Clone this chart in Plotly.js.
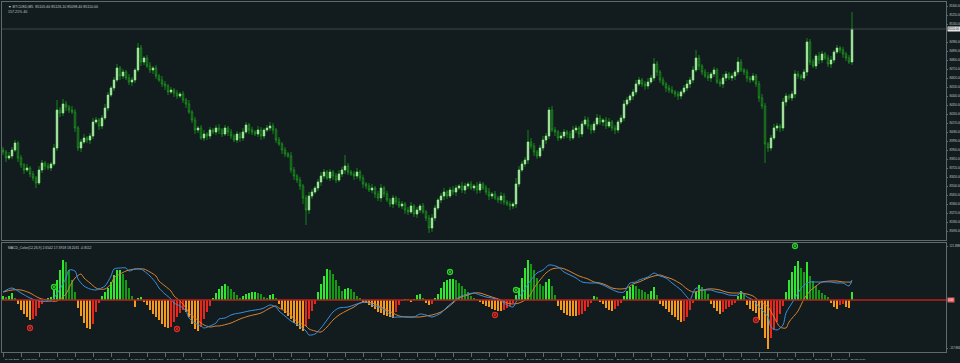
<!DOCTYPE html>
<html><head><meta charset="utf-8">
<script src="https://cdn.plot.ly/plotly-3.0.1.min.js"></script>
<style>html,body{margin:0;padding:0;background:#121c1e;}#chart{width:960px;height:363px;}</style>
</head><body><div id="chart"></div>
<script>
// ---- price bars (close), one per bar ----
const firstOpen = 83900;
const closes = [
83880,83820,83840,83900,83970,83820,83750,83700,83720,83660,
83620,83570,83700,83770,83740,83720,83760,83920,84300,84270,
84360,84330,84300,84280,84120,83920,83980,84020,84000,84040,
84180,84200,84140,84220,84320,84450,84520,84600,84720,84640,
84680,84620,84580,84600,84700,84920,84780,84820,84740,84700,
84720,84640,84600,84560,84540,84480,84500,84470,84440,84460,
84400,84360,84280,84200,84100,84120,84020,84060,84040,84100,
84080,84120,84100,84060,84120,84080,84040,84000,84060,84020,
84080,84150,84100,84080,84060,84100,84040,84100,84120,84140,
84100,84000,83960,83900,83860,83840,83700,83640,83600,83540,
83420,83300,83440,83480,83520,83580,83640,83680,83620,83680,
83640,83600,83660,83700,83740,83680,83660,83640,83680,83620,
83560,83540,83500,83520,83460,83420,83520,83460,83400,83360,
83420,83380,83340,83360,83300,83280,83340,83260,83300,83340,
83280,83220,83120,83220,83320,83400,83440,83480,83440,83500,
83480,83520,83540,83500,83540,83560,83520,83540,83500,83560,
83520,83480,83440,83460,83420,83400,83440,83380,83360,83340,
83360,83560,83700,83760,83800,83980,83940,83880,83840,83920,
84000,84040,84300,84100,84080,84020,84040,84080,84060,84020,
84100,84120,84060,84160,84200,84140,84100,84160,84220,84180,
84200,84140,84180,84120,84100,84180,84220,84360,84400,84440,
84480,84560,84600,84560,84540,84580,84620,84760,84680,84600,
84560,84520,84500,84480,84460,84440,84480,84520,84560,84600,
84700,84820,84740,84680,84640,84620,84660,84700,84580,84560,
84620,84660,84620,84640,84680,84780,84700,84680,84620,84600,
84640,84560,84420,84340,83960,83920,84020,84120,84140,84120,
84380,84440,84420,84460,84660,84640,84620,84680,84980,84780,
84740,84840,84800,84860,84820,84760,84800,84880,84920,84900,
84860,84820,84780,85110];
const wickUp = [
30,20,40,30,30,20,30,20,40,20, 30,20,40,30,20,30,20,40,100,30,
50,30,20,40,30,20,30,40,20,30, 40,30,20,30,40,30,20,30,40,20,
30,20,40,30,20,50,30,20,30,40, 20,30,20,40,30,20,30,20,30,20,
30,20,40,20,30,20,30,40,20,30, 20,30,40,20,30,20,30,20,30,20,
40,30,20,30,20,40,30,20,30,40, 30,20,30,20,30,20,40,30,20,30,
20,30,40,30,20,30,40,30,20,30, 20,30,40,30,110,30,20,30,40,20,
30,20,30,40,20,30,40,20,30,20, 30,20,40,30,20,30,40,20,30,20,
30,20,30,40,30,20,30,40,20,30, 40,30,20,40,30,20,30,20,40,30,
20,30,40,20,30,20,40,30,20,30, 20,60,40,30,30,120,40,30,20,30,
40,30,30,40,30,20,40,30,20,30, 40,30,20,30,40,30,20,30,40,30,
20,30,40,20,30,20,30,40,30,20, 30,40,30,20,30,40,30,60,30,20,
30,20,30,40,20,30,20,30,40,30, 40,80,30,20,30,40,20,30,20,30,
40,30,20,30,20,50,30,20,30,20, 30,20,30,40,30,20,30,40,30,20,
40,30,20,30,40,30,20,30,40,30, 30,20,40,30,20,30,40,20,30,20,
30,20,30,170];
const wickDn = [
30,40,20,30,20,40,30,40,20,30, 30,50,20,30,40,20,30,20,30,40,
30,40,30,20,40,30,40,20,30,40, 30,20,40,30,20,30,20,30,20,40,
30,20,30,40,30,20,40,30,20,30, 40,30,20,30,40,30,20,40,30,20,
30,40,20,30,40,30,20,30,40,30, 20,30,40,30,20,40,30,20,30,40,
30,20,40,30,20,30,40,30,20,30, 40,30,20,40,30,20,30,40,30,40,
60,150,40,30,20,30,40,30,20,30, 40,30,20,30,40,30,20,40,30,30,
40,30,20,30,40,30,40,30,20,30, 40,30,20,30,40,30,20,30,40,30,
20,30,50,40,30,20,30,40,30,20, 30,40,20,30,40,30,20,30,40,30,
20,30,40,30,20,30,40,30,20,40, 30,40,30,20,30,40,30,40,30,20,
30,40,30,20,40,30,20,30,40,30, 20,30,40,30,20,30,40,30,20,30,
40,30,20,30,40,30,20,30,20,30, 40,30,20,30,40,30,20,30,40,30,
20,40,30,20,30,40,30,20,30,40, 30,20,40,30,20,30,40,30,20,30,
40,30,20,30,40,30,20,30,40,30, 20,30,40,30,190,40,30,20,30,40,
30,40,20,30,40,30,20,30,40,30, 20,30,40,30,20,30,40,30,20,30,
40,30,20,30];

// ---- indicator histogram, one per bar ----
const hist = [
4,3,4,7,2,-4,-10,-14,-17,-20, -19,-16,-8,-4,1,2,3,10,20,30,
40,38,30,20,8,-8,-16,-23,-28,-29, -24,-12,-3,4,8,12,18,25,30,30,
26,20,12,4,-7,2,3,-2,-5,-10, -14,-17,-20,-24,-27,-28,-27,-22,-17,-13,
-10,-12,-17,-24,-29,-31,-27,-19,-12,-6, 2,7,11,14,16,14,11,8,5,2,
4,6,7,8,8,7,6,3,2,5, 6,2,-4,-9,-13,-16,-19,-23,-26,-29,
-31,-26,-19,-11,-4,8,16,24,31,30, 26,20,14,9,11,12,11,8,4,2,
-2,-3,-5,-7,-9,-12,-13,-15,-16,-17, -18,-12,-5,-1,1,0.5,-2,1,5,6,
2,-3,-5,-4,2,6,12,18,20,21, 21,20,17,14,11,8,4,2,1,-2,
-4,-6,-7,-9,-10,-11,-11,-10,-8,-6, -3,5,12,22,32,40,36,30,22,16,
14,18,21,14,5,-6,-10,-13,-15,-16, -16,-16,-15,-14,-11,-7,-3,4,3,-2,
-4,-8,-10,-11,-9,-6,-3,4,9,13, 15,14,11,10,8,6,9,13,5,-4,
-6,-9,-12,-15,-17,-20,-22,-21,-17,-10, -3,8,15,13,10,6,-4,-8,-11,-14,
-12,-9,-7,-5,-3,4,9,6,-5,-9, -11,-13,-20,-28,-38,-49,-38,-30,-22,-14,
-6,8,20,28,34,39,32,28,38,24, 19,14,10,7,5,3,-3,-7,-9,-5,
-4,-7,-8,8];

// ---- indicator lines (bar index, value) ----
const mainIdx = [0,3,6,9,12,16,17,19,21,22,24,25,27,29,31,32,34,36,37,39,41,42,44,46,47,49,51,52,54,56,57,59,61,62,64,66,67,69,71,72,74,76,77,79,82,86,87,89,91,92,94,96,99,101,102,104,106,108,110,112,115,117,119,121,123,126,128,130,132,135,137,139,141,143,146,148,150,152,155,157,159,161,163,166,168,170,171,173,176,178,180,182,185,187,189,191,193,196,198,200,202,205,207,209,211,212,215,217,219,221,223,226,228,229,230,231,233,236,238,240,242,245,246,248,250,252,255,256,258,260,261,263,265,267,269,271,273,276,278,280,282,283];
const mainVals = [8,12,7,2,-1,-1,2,11,22,30,29,21,14,11,10,11,14,24,31,32,32,29,31,31,29,24,17,12,6,1,-3,-6,-11,-18,-23,-26,-28,-26,-23,-19,-18,-15,-14,-13,-11,-9,-8,-5,-7,-11,-16,-21,-26,-31,-35,-34,-28,-20,-12,-8,-7,-5,-3,-2,-5,-8,-12,-17,-17,-17,-17,-14,-15,-17,-13,-7,-2,3,6,7,5,3,2,-1,-5,-7,-2,7,20,27,30,35,33,28,25,22,18,17,17,15,12,8,8,17,18,20,23,27,24,22,17,10,3,0,7,12,10,10,8,7,5,5,8,3,0,-7,-17,-27,-30,-25,-13,-3,7,15,18,18,18,18,17,17,14,20];
const sigIdx = [0,3,6,9,12,16,18,21,22,24,26,27,29,31,32,34,36,37,39,41,42,44,46,47,49,51,52,54,56,57,59,61,62,64,66,67,69,71,72,76,79,82,86,89,91,92,94,96,97,99,101,102,104,106,108,110,112,115,117,119,121,123,126,128,130,132,135,137,139,141,143,146,148,150,152,155,157,159,161,163,166,168,170,172,175,177,179,181,183,186,188,190,192,195,197,199,201,203,206,208,210,212,215,217,219,221,223,226,228,230,232,235,237,239,241,243,246,248,250,252,255,257,259,261,262,265,267,269,271,273,276,278,280,283];
const sigVals = [8,10,10,7,2,-1,-1,6,12,22,26,22,17,12,11,11,16,22,26,29,30,31,31,31,28,24,19,14,9,4,-1,-8,-13,-18,-23,-25,-27,-26,-26,-23,-19,-16,-13,-8,-6,-8,-11,-15,-19,-23,-26,-29,-31,-32,-27,-20,-15,-10,-7,-3,-2,-3,-7,-10,-13,-16,-17,-17,-17,-16,-15,-12,-8,-3,2,5,7,7,5,3,0,-3,-4,-3,2,12,20,27,31,32,30,27,24,21,18,17,15,12,11,12,16,18,22,24,25,23,21,16,11,8,9,11,11,10,8,7,7,6,4,-1,-7,-17,-27,-28,-22,-11,1,9,14,18,19,19,18,18];

// ---- signal dots on the indicator pane ----
const upIdx = [17,149,171,264];
const upVals = [13,28,10,54];
const dnIdx = [9,58,164,251];
const dnVals = [-28,-29,-15,-20];

// ---- texts ----
const timeIdx = [0,6,12,18,24,30,36,42,48,54,60,66,72,78,84,90,96,102,108,114,120,126,132,138,144,150,156,162,168,174,180,186,192,198,204,210,216,222,228,234,240,246,252,258,264,270,276,282];
const timeLabels = ["24 Mar 2025","24 Mar 08:30","24 Mar 09:00","24 Mar 09:30","24 Mar 10:00","24 Mar 10:30","24 Mar 11:00","24 Mar 11:30","24 Mar 12:00","24 Mar 12:30","24 Mar 13:00","24 Mar 13:30","24 Mar 14:00","24 Mar 14:30","24 Mar 15:00","24 Mar 15:30","24 Mar 16:00","24 Mar 16:30","24 Mar 17:00","24 Mar 17:30","24 Mar 18:00","24 Mar 18:30","24 Mar 19:00","24 Mar 19:30","24 Mar 20:00","24 Mar 20:30","24 Mar 21:00","24 Mar 21:30","24 Mar 22:00","24 Mar 22:30","24 Mar 23:00","24 Mar 23:30","25 Mar 00:00","25 Mar 00:30","25 Mar 01:00","25 Mar 01:30","25 Mar 02:00","25 Mar 02:30","25 Mar 03:00","25 Mar 03:30","25 Mar 04:00","25 Mar 04:30","25 Mar 05:00","25 Mar 05:30","25 Mar 06:00","25 Mar 06:30","25 Mar 07:00","25 Mar 07:30"];
const priceTicks = [85340,85250,85160,84980,84890,84800,84710,84620,84530,84440,84350,84260,84170,84080,83990,83900,83810,83720,83630,83540,83450,83360,83270,83180,83090];
const chartHeader = "\u25BC BTCUSD,M5  85105.60 85126.10 85098.40 85110.00";
const chartSub = "157.21% 40";
const indHeader = "MACD_Color(12,26,9) 2.6542 17.3918 18.2031 -0.8112";
const indTickVals = [54, -48];
const indTickText = ["121.3886", "-117.8842"];
const lastPrice = 85110;

// ---- build ----
const idx = closes.map((_, i) => i);
const opens = closes.map((c, i) => i === 0 ? firstOpen : closes[i - 1]);
const highs = closes.map((c, i) => Math.max(opens[i], c) + wickUp[i]);
const lows = closes.map((c, i) => Math.min(opens[i], c) - wickDn[i]);
const upBars = idx.filter(i => closes[i] > opens[i]);
const histColors = hist.map((v, i) => {
  const p = i === 0 ? 0 : hist[i - 1];
  if (v >= 0) return v >= p ? '#2ee82e' : '#139a13';
  return v <= p ? '#f59a1a' : '#e8281c';
});

const BG = '#121c1e', AX = '#5f6a6c', TXT = '#c4c8c8';
const FONT = 'Liberation Sans';

const traces = [
  {type:'candlestick', x: idx, open: opens, high: highs, low: lows, close: closes,
   xaxis:'x', yaxis:'y', whiskerwidth:0,
   increasing:{line:{color:'#1c9c1c', width:0.8}, fillcolor:'#1c9c1c'},
   decreasing:{line:{color:'#1c9c1c', width:0.8}, fillcolor:'#121c1e'},
   hoverinfo:'skip', showlegend:false},
  {type:'candlestick', x: upBars, open: upBars.map(i => opens[i]), close: upBars.map(i => closes[i]),
   high: upBars.map(i => closes[i]), low: upBars.map(i => opens[i]),
   xaxis:'x', yaxis:'y', whiskerwidth:0,
   increasing:{line:{color:'#aee8a8', width:0.6}, fillcolor:'#c2f0bc'},
   decreasing:{line:{color:'#aee8a8', width:0.6}, fillcolor:'#c2f0bc'},
   hoverinfo:'skip', showlegend:false},
  {type:'bar', x: idx, y: hist, xaxis:'x2', yaxis:'y2', width:0.62,
   marker:{color: histColors, line:{width:0}}, hoverinfo:'skip', showlegend:false},
  {type:'scatter', mode:'lines', x: sigIdx, y: sigVals, xaxis:'x2', yaxis:'y2',
   line:{color:'#d98230', width:1, shape:'spline', smoothing:0.8}, hoverinfo:'skip', showlegend:false},
  {type:'scatter', mode:'lines', x: mainIdx, y: mainVals, xaxis:'x2', yaxis:'y2',
   line:{color:'#3a8ee0', width:1, shape:'spline', smoothing:0.8}, hoverinfo:'skip', showlegend:false},
  {type:'scatter', mode:'markers', x: upIdx, y: upVals, xaxis:'x2', yaxis:'y2',
   marker:{symbol:'circle-open-dot', size:5, color:'#2ad22a', line:{width:1.3}}, hoverinfo:'skip', showlegend:false},
  {type:'scatter', mode:'markers', x: dnIdx, y: dnVals, xaxis:'x2', yaxis:'y2',
   marker:{symbol:'circle-open-dot', size:5, color:'#e02a22', line:{width:1.3}}, hoverinfo:'skip', showlegend:false}
];

const xr = [-1/3, 314.33];
const layout = {
  width:960, height:363,
  margin:{l:2, r:14, t:2, b:11, pad:0},
  paper_bgcolor:BG, plot_bgcolor:BG,
  font:{family:FONT, color:TXT, size:4},
  showlegend:false, bargap:0,
  xaxis:{domain:[0,1], range:xr, anchor:'y', showgrid:false, zeroline:false,
         showticklabels:false, ticks:'', showline:true, linecolor:AX, linewidth:1, mirror:true,
         rangeslider:{visible:false}, fixedrange:true},
  yaxis:{domain:[0.32,1], range:[83000,85380], side:'right', anchor:'x', showgrid:false, zeroline:false,
         tickmode:'array', tickvals:priceTicks, ticktext:priceTicks.map(v => v.toFixed(2)),
         ticks:'outside', ticklen:1, tickcolor:AX, ticklabelstandoff:1,
         tickfont:{size:2.7, color:TXT, family:FONT}, showline:true, linecolor:AX, linewidth:1, mirror:true},
  xaxis2:{domain:[0,1], range:xr, anchor:'y2', showgrid:false, zeroline:false,
          tickmode:'array', tickvals:timeIdx, ticktext:timeLabels, ticks:'outside', ticklen:4, tickcolor:AX,
          tickfont:{size:2.5, color:TXT, family:FONT}, ticklabelshift:9, ticklabelstandoff:0,
          showline:true, linecolor:AX, linewidth:1, mirror:true},
  yaxis2:{domain:[0,0.3114], range:[-52,57], side:'right', anchor:'x2', showgrid:false, zeroline:false,
          tickmode:'array', tickvals:indTickVals, ticktext:indTickText, ticks:'outside', ticklen:1, tickcolor:AX,
          ticklabelstandoff:1,
          tickfont:{size:2.7, color:TXT, family:FONT}, showline:true, linecolor:AX, linewidth:1, mirror:true},
  shapes:[
    {type:'line', xref:'paper', yref:'y', x0:0, x1:1, y0:lastPrice, y1:lastPrice, line:{color:'#3b4648', width:1}},
    {type:'line', xref:'paper', yref:'y2', x0:0, x1:1, y0:0, y1:0, line:{color:'#b8201c', width:1.5}}
  ],
  annotations:[
    {xref:'paper', yref:'paper', x:0.004, y:0.997, xanchor:'left', yanchor:'top', showarrow:false,
     text: chartHeader, font:{size:3.6, color:TXT, family:FONT}},
    {xref:'paper', yref:'paper', x:0.004, y:0.982, xanchor:'left', yanchor:'top', showarrow:false,
     text: chartSub, font:{size:3.6, color:TXT, family:FONT}},
    {xref:'paper', yref:'paper', x:0.004, y:0.309, xanchor:'left', yanchor:'top', showarrow:false,
     text: indHeader, font:{size:3.4, color:TXT, family:FONT}},
    {xref:'paper', yref:'y', x:1.0015, y:lastPrice, xanchor:'left', yanchor:'middle', showarrow:false,
     text: lastPrice.toFixed(2), bgcolor:'#e8e8e8', font:{size:2.7, color:'#121c1e', family:FONT}, borderpad:0},
    {xref:'paper', yref:'y2', x:1.0015, y:0, xanchor:'left', yanchor:'middle', showarrow:false,
     text:'0.00', bgcolor:'#e45a5a', font:{size:2.7, color:'#ffffff', family:FONT}, borderpad:0}
  ]
};

Plotly.newPlot('chart', traces, layout, {staticPlot:true, displayModeBar:false});
</script>
</body></html>
